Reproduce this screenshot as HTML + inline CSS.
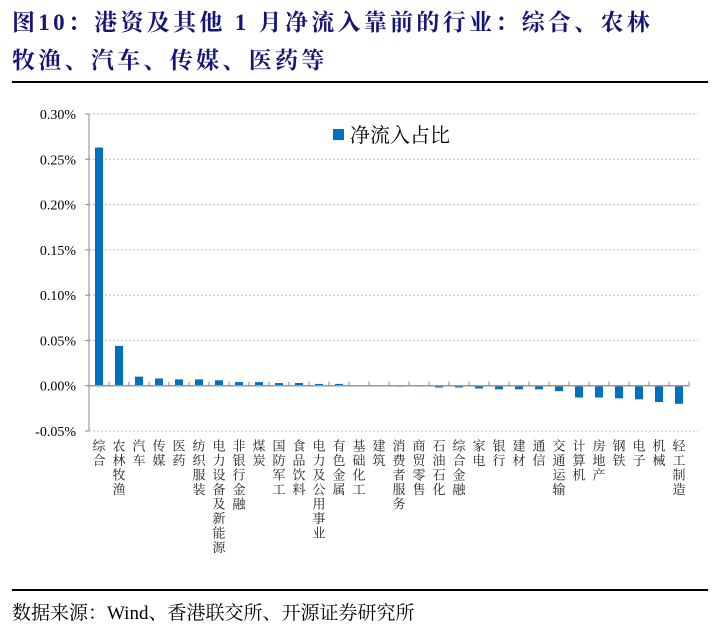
<!DOCTYPE html>
<html><head><meta charset="utf-8"><style>
body{margin:0;width:719px;height:640px;background:#fff;overflow:hidden;position:relative;font-family:"Liberation Serif","Noto Serif CJK SC",serif}
#title{position:absolute;left:12px;top:4px;width:705px;font-size:23px;font-weight:bold;color:#14147a;line-height:38px;letter-spacing:3.3px;white-space:nowrap}
.rule{position:absolute;left:12px;width:696px;height:2px;background:#000}
#src{position:absolute;left:12px;top:598px;font-size:19px;color:#000}
svg{position:absolute;left:0;top:0}
</style></head><body>
<div id="title">图10：港资及其他 1 月净流入靠前的行业：综合、农林<br>牧渔、汽车、传媒、医药等</div>
<div class="rule" style="top:81px"></div>
<svg id="chart" width="719" height="640"></svg>
<div class="rule" style="top:589px"></div>
<div id="src">数据来源：Wind、香港联交所、开源证券研究所</div>
<script>
const categories=["综合","农林牧渔","汽车","传媒","医药","纺织服装","电力设备及新能源","非银行金融","煤炭","国防军工","食品饮料","电力及公用事业","有色金属","基础化工","建筑","消费者服务","商贸零售","石油石化","综合金融","家电","银行","建材","通信","交通运输","计算机","房地产","钢铁","电子","机械","轻工制造"];
const values=[0.263,0.044,0.010,0.008,0.007,0.007,0.006,0.004,0.004,0.003,0.003,0.002,0.002,0.0005,-0.0005,-0.001,-0.001,-0.002,-0.002,-0.003,-0.004,-0.004,-0.004,-0.006,-0.013,-0.013,-0.014,-0.015,-0.018,-0.020];
const ticks=[0.30,0.25,0.20,0.15,0.10,0.05,0.00,-0.05];
const tickLabels=["0.30%","0.25%","0.20%","0.15%","0.10%","0.05%","0.00%","-0.05%"];
const NS="http://www.w3.org/2000/svg",svg=document.getElementById('chart');
const x0=89,x1=689,yTop=114,yBot=431,vMax=0.30,vMin=-0.05;
const y=v=>yTop+(vMax-v)/(vMax-vMin)*(yBot-yTop);
const step=(x1-x0)/categories.length;
const xc=i=>x0+step*(i+0.5);
function mk(t,a){const e=document.createElementNS(NS,t);for(const k in a)e.setAttribute(k,a[k]);svg.appendChild(e);return e;}
ticks.forEach((t,i)=>{
 if(t!==0){const g=mk('line',{x1:x0,x2:698,y1:y(t),y2:y(t),stroke:'#bbb','stroke-dasharray':'2,2'});
 
 }
 const tk=mk('line',{x1:x0-4,x2:x0,y1:y(t),y2:y(t),stroke:'#888'});
 
 
 const l=mk('text',{x:x0-13,y:y(t)+5,'text-anchor':'end','font-size':'14','font-family':'Liberation Serif'});
 l.textContent=tickLabels[i];
 
 
});
const ax=mk('line',{x1:x0,x2:x0,y1:yTop,y2:yBot,stroke:'#888'});


values.forEach((v,i)=>{
 const b=mk('rect',{x:xc(i)-4,width:8,y:Math.min(y(v),y(0)),height:Math.max(Math.abs(y(v)-y(0)),0.6),fill:'#0070c0'});
 
 
});
const zx=mk('line',{x1:x0,x2:x1,y1:y(0),y2:y(0),stroke:'#999','stroke-width':1.5});


categories.forEach((c,i)=>{
 const tk=mk('line',{x1:x0+step*(i+1),x2:x0+step*(i+1),y1:y(0)-4,y2:y(0),stroke:'#888'});
 
 
 const t=mk('text',{x:xc(i),y:439,'font-size':'13','font-family':'Noto Serif CJK SC, serif','writing-mode':'tb','glyph-orientation-vertical':'0','letter-spacing':'1.5','fill':'#222'});
 t.textContent=c;
 
 
});
const lg=mk('rect',{x:333,y:129,width:11,height:11,fill:'#0070c0'});


const lt=mk('text',{x:350,y:142,'font-size':'20','font-family':'Noto Serif CJK SC, serif'});
lt.textContent='净流入占比';


</script>
</body></html>
